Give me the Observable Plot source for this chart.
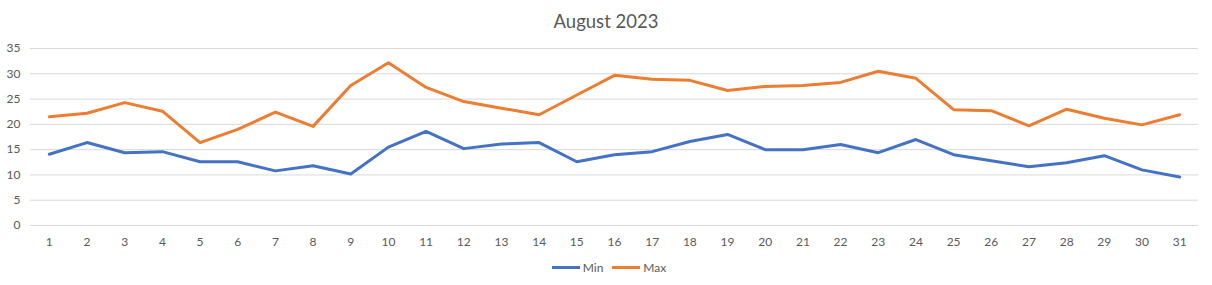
<!DOCTYPE html>
<html>
<head>
<meta charset="utf-8">
<script src="https://cdn.jsdelivr.net/npm/d3@7"></script>
<script src="https://cdn.jsdelivr.net/npm/@observablehq/plot@0.6"></script>
<style>
  html, body { margin: 0; padding: 0; background: #fff; }
  body { width: 1212px; height: 285px; overflow: hidden; font-family: Lato, "Open Sans", sans-serif; color: #595959; }
  #title { height: 40px; line-height: 42px; text-align: center; font-size: 18.5px; color: #595959; }
  #chart svg { display: block; }
  #legend { height: 15px; display: flex; justify-content: center; align-items: center; font-size: 12px; color: #595959; gap: 9px; padding-left: 6px; }
  .item { display: flex; align-items: center; gap: 3px; }
  .swatch { width: 28px; height: 3px; }
</style>
</head>
<body>
<div id="title">August 2023</div>
<div id="chart"></div>
<div id="legend"></div>
<script>
const days = d3.range(1, 32);
const minTemps = [14.1, 16.4, 14.4, 14.6, 12.6, 12.6, 10.8, 11.8, 10.2, 15.5,
                  18.6, 15.2, 16.1, 16.4, 12.6, 14.0, 14.6, 16.6, 18.0, 15.0,
                  15.0, 16.0, 14.4, 17.0, 14.0, 12.8, 11.6, 12.4, 13.8, 11.0, 9.6];
const maxTemps = [21.5, 22.2, 24.3, 22.6, 16.4, 19.0, 22.4, 19.6, 27.7, 32.2,
                  27.3, 24.5, 23.2, 21.9, 25.8, 29.7, 28.9, 28.7, 26.7, 27.5,
                  27.7, 28.3, 30.5, 29.1, 22.9, 22.7, 19.7, 23.0, 21.2, 19.9, 21.9];
const seriesNames = ["Min", "Max"];
const seriesColors = ["#4472C4", "#ED7D31"];
const yTicks = [0, 5, 10, 15, 20, 25, 30, 35];

const data = [];
days.forEach((d, i) => {
  data.push({day: d, value: minTemps[i], series: "Min"});
  data.push({day: d, value: maxTemps[i], series: "Max"});
});

const chart = Plot.plot({
  width: 1212,
  height: 220,
  marginTop: 8,
  marginBottom: 35,
  marginLeft: 30,
  marginRight: 14,
  style: {fontFamily: "Lato, 'Open Sans', sans-serif", fontSize: "12px", color: "#595959", background: "#fff"},
  x: {type: "linear", domain: [0.5, 31.5], label: null},
  y: {domain: [0, 35], label: null},
  color: {domain: seriesNames, range: seriesColors},
  marks: [
    Plot.ruleY(yTicks, {stroke: "#d9d9d9", strokeWidth: 1}),
    Plot.axisY({ticks: yTicks, tickSize: 0, tickPadding: 10, label: null, fill: "#595959"}),
    Plot.axisX({ticks: days, tickFormat: d => String(d), tickSize: 0, tickPadding: 12, label: null, fill: "#595959"}),
    Plot.line(data, {x: "day", y: "value", z: "series", stroke: "series", strokeWidth: 3, strokeLinejoin: "round", strokeLinecap: "round"})
  ]
});
document.getElementById("chart").appendChild(chart);

const legend = document.getElementById("legend");
seriesNames.forEach((name, i) => {
  const item = document.createElement("div");
  item.className = "item";
  const sw = document.createElement("div");
  sw.className = "swatch";
  sw.style.background = seriesColors[i];
  const label = document.createElement("span");
  label.textContent = name;
  item.appendChild(sw);
  item.appendChild(label);
  legend.appendChild(item);
});
</script>
</body>
</html>
